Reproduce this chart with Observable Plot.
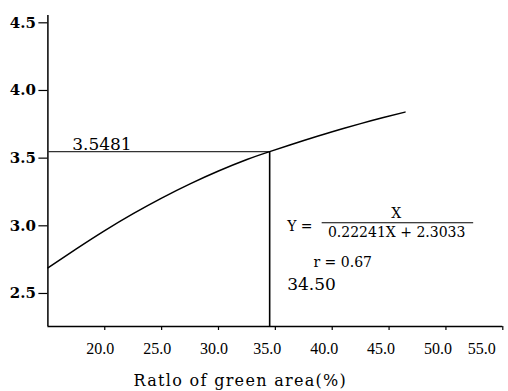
<!DOCTYPE html>
<html><head><meta charset="utf-8">
<script src="https://cdn.jsdelivr.net/npm/d3@7"></script>
<script src="https://cdn.jsdelivr.net/npm/@observablehq/plot@0.6"></script>
<style>
body{margin:0;background:#fff;}
</style></head><body><div id="chart"></div>
<script>
// Curve
const greenRatio = [15, 17.5, 20, 22.5, 25, 27.5, 30, 32.5, 34.5, 37.5, 40, 42.5, 44.5, 46.4];
const fittedValue = [2.69, 2.83, 2.965, 3.09, 3.205, 3.31, 3.405, 3.49, 3.5481, 3.63, 3.695, 3.755, 3.80, 3.84];
const xTicks = [20, 25, 30, 35, 40, 45, 50, 55];
const yTicks = [2.5, 3.0, 3.5, 4.0, 4.5];
const xDomain = [15, 55];
const yDomain = [2.256, 4.554];
const cutX = 34.5;
const cutY = 3.5481;
const cutXLabel = "34.50";
const cutYLabel = "3.5481";
const formulaLeft = "Y =";
const formulaNumerator = "X";
const formulaDenominator = "0.22241X + 2.3033";
const corrLabel = "r = 0.67";
const xTitle = "Ratlo of green area(%)";

const curve = greenRatio.map((x, i) => ({x, y: fittedValue[i]}));
const anchor = {x: cutX, y: yTicks[0]};
const serif = "DejaVu Serif, serif";
const tickFont = "Liberation Serif, serif";

const plot = Plot.plot({
  width: 508, height: 391,
  marginLeft: 47.4, marginRight: 5.7, marginTop: 15, marginBottom: 65,
  x: {domain: xDomain},
  y: {domain: yDomain},
  style: {fontFamily: serif, background: "white", color: "black", overflow: "visible"},
  marks: [
    Plot.ruleX([xDomain[0]], {stroke: "#000", strokeWidth: 1.5}),
    Plot.ruleY([yDomain[0]], {stroke: "#000", strokeWidth: 1.5}),
    Plot.axisY({ticks: yTicks, tickSize: 9, tickPadding: 3, tickFormat: d => d.toFixed(1), label: null,
      fontSize: 15, fontWeight: "bold", fontFamily: serif, strokeWidth: 1.2}),
    Plot.axisX({ticks: xTicks, tickSize: 4, text: null, label: null, strokeWidth: 1.2}),
    Plot.axisX({ticks: xTicks.slice(0, 3), tickSize: 0, tickPadding: 16.6, dx: -4.5, tickFormat: d => d.toFixed(1),
      label: null, fontSize: 16, fontFamily: tickFont}),
    Plot.axisX({ticks: xTicks.slice(3, 7), tickSize: 0, tickPadding: 16.6, dx: -8, tickFormat: d => d.toFixed(1),
      label: null, fontSize: 16, fontFamily: tickFont}),
    Plot.axisX({ticks: xTicks.slice(7), tickSize: 0, tickPadding: 16.6, dx: -21, tickFormat: d => d.toFixed(1),
      label: null, fontSize: 16, fontFamily: tickFont}),
    Plot.ruleY([cutY], {x1: xDomain[0], x2: cutX, stroke: "#333", strokeWidth: 1.3}),
    Plot.ruleX([cutX], {y1: yDomain[0], y2: cutY, stroke: "#000", strokeWidth: 1.6}),
    Plot.line(curve, {x: "x", y: "y", curve: "natural", stroke: "#000", strokeWidth: 1.5}),
    Plot.text([{x: xDomain[0], y: cutY, t: cutYLabel}], {x: "x", y: "y", text: "t", textAnchor: "start",
      lineAnchor: "bottom", dx: 24.3, dy: -1.5, fontSize: 17}),
    Plot.text([{...anchor, t: cutXLabel}], {x: "x", y: "y", text: "t", textAnchor: "start",
      lineAnchor: "bottom", dx: 17.5, dy: -3, fontSize: 17}),
    Plot.text([{...anchor, t: corrLabel}], {x: "x", y: "y", text: "t", textAnchor: "start",
      lineAnchor: "bottom", dx: 43.8, dy: -26, fontSize: 14}),
    Plot.text([{...anchor, t: formulaLeft}], {x: "x", y: "y", text: "t", textAnchor: "start",
      lineAnchor: "bottom", dx: 17.5, dy: -62, fontSize: 14}),
    Plot.text([{...anchor, t: formulaNumerator}], {x: "x", y: "y", text: "t", textAnchor: "middle",
      lineAnchor: "bottom", dx: 126.5, dy: -75, fontSize: 14}),
    Plot.text([{...anchor, t: formulaDenominator}], {x: "x", y: "y", text: "t", textAnchor: "middle",
      lineAnchor: "bottom", dx: 127, dy: -56, fontSize: 14}),
    Plot.text([xTitle], {frameAnchor: "bottom", lineAnchor: "bottom", dx: -35, dy: 59, fontSize: 16})
  ]
});

// fraction bar of the formula, placed relative to the same anchor through Plot's scales
const sx = plot.scale("x"), sy = plot.scale("y");
const px = sx.apply(anchor.x), py = sy.apply(anchor.y);
d3.select(plot).append("line")
  .attr("x1", px + 52.5).attr("x2", px + 204)
  .attr("y1", py - 70.3).attr("y2", py - 70.3)
  .attr("stroke", "#000").attr("stroke-width", 1.1);
d3.select(plot).selectAll("text").filter(function () { return this.textContent === xTitle; })
  .attr("letter-spacing", "1.3");

document.getElementById("chart").append(plot);
</script></body></html>
